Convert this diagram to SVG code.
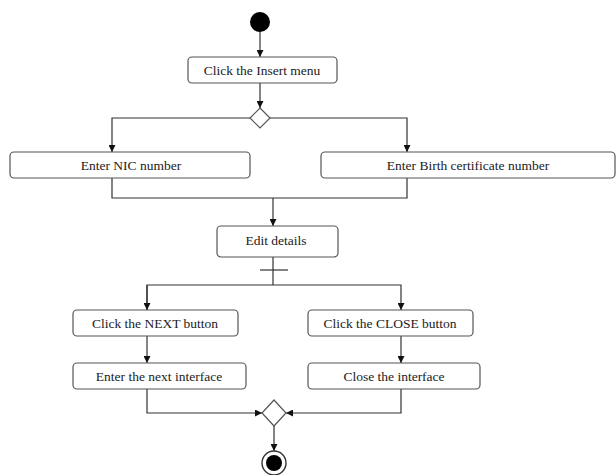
<svg xmlns="http://www.w3.org/2000/svg" width="616" height="475" viewBox="0 0 616 475">
  <style>
    .act { fill: #ffffff; stroke: #555555; stroke-width: 1.2; }
    .lbl { font-family: "Liberation Serif", "Times New Roman", serif; font-size: 13.5px; fill: #222222; text-anchor: middle; dominant-baseline: central; }
    .edge { fill: none; stroke: #333333; stroke-width: 1.2; }
    .dec { fill: #ffffff; stroke: #555555; stroke-width: 1.2; }
  </style>
  <defs>
    <marker id="arrow" viewBox="0 0 10 10" refX="10" refY="5" markerWidth="7" markerHeight="7" markerUnits="userSpaceOnUse" orient="auto">
      <path d="M0,0 L10,5 L0,10 z" fill="#111111"/>
    </marker>
  </defs>
  <rect width="616" height="475" fill="#ffffff"/>

  <!-- connectors -->
  <g id="connectors">
    <path class="edge" d="M260,32 V57" marker-end="url(#arrow)"/>
    <path class="edge" d="M260,83 V108" marker-end="url(#arrow)"/>
    <path class="edge" d="M250,118 H112 V152" marker-end="url(#arrow)"/>
    <path class="edge" d="M270,118 H407 V152" marker-end="url(#arrow)"/>
    <path class="edge" d="M112,178 V198 H407 V178"/>
    <path class="edge" d="M273,198 V226" marker-end="url(#arrow)"/>
    <path class="edge" d="M273,257 V285"/>
    <path class="edge" d="M260,270 H288"/>
    <path class="edge" d="M147,310 V285 H401 V310" marker-end="url(#arrow)"/>
    <path class="edge" d="M147,285 V310" marker-end="url(#arrow)"/>
    <path class="edge" d="M147,336 V363" marker-end="url(#arrow)"/>
    <path class="edge" d="M401,336 V363" marker-end="url(#arrow)"/>
    <path class="edge" d="M147,389 V413 H262" marker-end="url(#arrow)"/>
    <path class="edge" d="M401,389 V413 H286" marker-end="url(#arrow)"/>
    <path class="edge" d="M274,426 V451" marker-end="url(#arrow)"/>
  </g>

  <!-- start -->
  <g id="start">
    <circle cx="260" cy="22" r="10" fill="#000000"/>
  </g>

  <g id="insert-menu">
    <rect class="act" x="188" y="57" width="149" height="26" rx="4"/>
    <text class="lbl" x="262" y="70">Click the Insert menu</text>
  </g>

  <g id="decision-id">
    <path class="dec" d="M260,108 L270,118 L260,128 L250,118 Z"/>
  </g>

  <g id="enter-nic">
    <rect class="act" x="10" y="152" width="240" height="26" rx="4"/>
    <text class="lbl" x="131" y="165">Enter NIC number</text>
  </g>

  <g id="enter-birth">
    <rect class="act" x="321" y="152" width="294" height="26" rx="4"/>
    <text class="lbl" x="468" y="165">Enter Birth certificate number</text>
  </g>

  <g id="edit-details">
    <rect class="act" x="217" y="226" width="121" height="31" rx="4"/>
    <text class="lbl" x="276" y="240">Edit details</text>
  </g>

  <g id="click-next">
    <rect class="act" x="73" y="310" width="165" height="26" rx="4"/>
    <text class="lbl" x="155" y="323">Click the NEXT button</text>
  </g>

  <g id="click-close">
    <rect class="act" x="308" y="310" width="165" height="26" rx="4"/>
    <text class="lbl" x="390" y="323">Click the CLOSE button</text>
  </g>

  <g id="next-interface">
    <rect class="act" x="73" y="363" width="173" height="26" rx="4"/>
    <text class="lbl" x="159" y="376">Enter the next interface</text>
  </g>

  <g id="close-interface">
    <rect class="act" x="308" y="363" width="172" height="26" rx="4"/>
    <text class="lbl" x="394" y="376">Close the interface</text>
  </g>

  <g id="merge">
    <path class="dec" d="M274,400 L286,413 L274,426 L262,413 Z"/>
  </g>

  <g id="end">
    <circle cx="274" cy="463" r="12" fill="#ffffff" stroke="#333333" stroke-width="1.4"/>
    <circle cx="274" cy="463" r="8" fill="#000000"/>
  </g>
</svg>
